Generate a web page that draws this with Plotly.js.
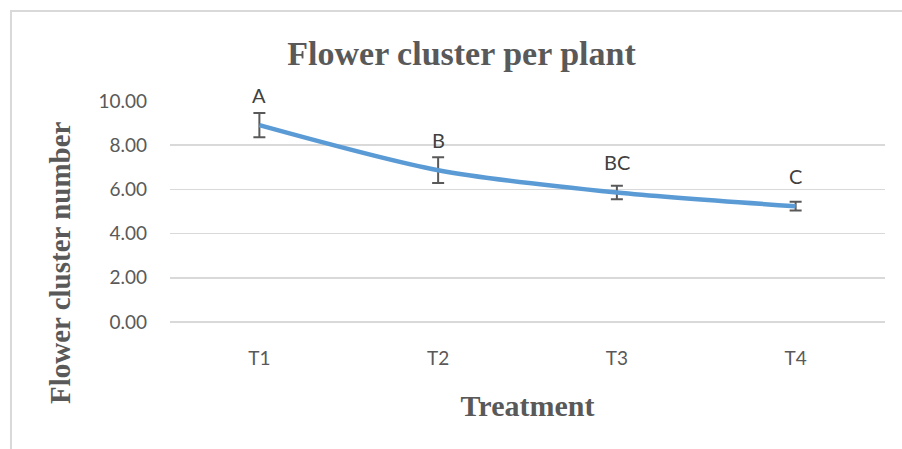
<!DOCTYPE html>
<html>
<head>
<meta charset="utf-8">
<script src="https://cdn.plot.ly/plotly-3.0.1.min.js"></script>
<style>
html,body{margin:0;padding:0;background:#fff;}
#wrap{position:relative;width:902px;height:449px;overflow:hidden;}
#chart{position:absolute;left:0;top:0;width:902px;height:449px;}
#frame{position:absolute;left:10px;top:10px;width:1000px;height:600px;border:2px solid #d9d9d9;box-sizing:border-box;pointer-events:none;}
</style>
</head>
<body>
<div id="wrap"><div id="chart"></div><div id="frame"></div></div>
<script>
const categories = ["T1", "T2", "T3", "T4"];
const values = [8.91, 6.87, 5.86, 5.24];
const errors = [0.55, 0.58, 0.31, 0.20];
const letters = ["A", "B", "BC", "C"];
const yTickValues = [0, 2, 4, 6, 8, 10];

const serif = "'Liberation Serif', 'Times New Roman', serif";
const sans = "Lato, 'Open Sans', sans-serif";

const trace = {
  x: categories,
  y: values,
  type: "scatter",
  mode: "lines",
  line: {color: "#5B9BD5", width: 4.5, shape: "spline", smoothing: 0.8},
  error_y: {type: "data", array: errors, visible: true, color: "#595959", thickness: 2, width: 6},
  hoverinfo: "x+y"
};

const annotations = categories.map((c, i) => ({
  x: c, y: values[i], xref: "x", yref: "y",
  text: letters[i], showarrow: false, yanchor: "middle", yshift: 30,
  font: {family: sans, size: 20, color: "#404040"}
}));

annotations.push({
  xref: "paper", yref: "paper",
  x: (60 - 170) / 715, y: (322 - 263) / 221,
  xanchor: "center", yanchor: "middle",
  text: "<b>Flower cluster number</b>", textangle: -90, showarrow: false,
  font: {family: serif, size: 29, color: "#595959"}
});

const layout = {
  width: 902, height: 449,
  margin: {l: 170, r: 17, t: 101, b: 127},
  paper_bgcolor: "#ffffff", plot_bgcolor: "#ffffff",
  showlegend: false,
  title: {
    text: "<b>Flower cluster per plant</b>",
    font: {family: serif, size: 34, color: "#595959"},
    xref: "container", x: 461.5 / 902, xanchor: "center",
    yref: "container", y: 1 - 53/449, yanchor: "middle"
  },
  xaxis: {
    type: "category",
    range: [-0.5, 3.5],
    showgrid: false, zeroline: false, showline: false,
    ticks: "", ticklabelstandoff: 23,
    tickfont: {family: sans, size: 19, color: "#595959"},
    title: {text: "<b>Treatment</b>", font: {family: serif, size: 30, color: "#595959"}, standoff: 26}
  },
  yaxis: {
    range: [0, 10],
    tickvals: yTickValues,
    tickformat: ".2f",
    showgrid: true, gridcolor: "#d9d9d9", gridwidth: 1.5,
    zeroline: true, zerolinecolor: "#d9d9d9", zerolinewidth: 1.5,
    showline: false, ticks: "", ticklabelstandoff: 22,
    tickfont: {family: sans, size: 19, color: "#595959"}
  },
  annotations: annotations
};

Plotly.newPlot("chart", [trace], layout, {displayModeBar: false, staticPlot: true});
</script>
</body>
</html>
